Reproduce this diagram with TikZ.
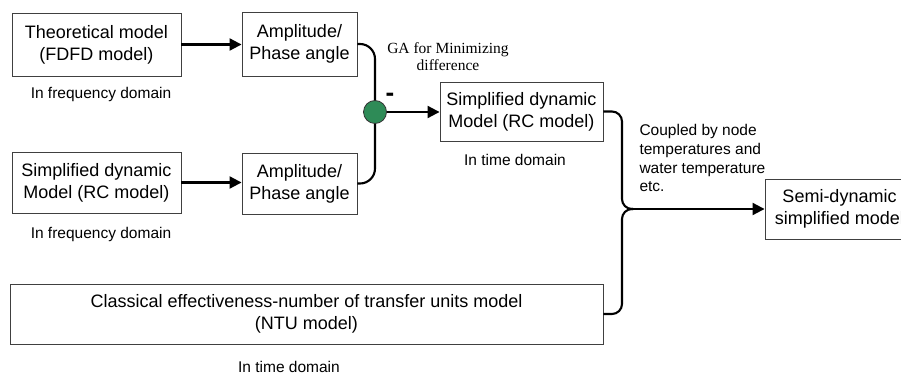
\documentclass[tikz,border=0pt]{standalone}
\usepackage{fontspec}
\setmainfont{Liberation Sans}
\newfontfamily\gaFont{Liberation Serif}
\usepackage{xcolor}
\definecolor{sumGreen}{RGB}{46,139,87}
\usetikzlibrary{
    positioning,
    arrows.meta,
}

\begin{document}
\begin{tikzpicture}[x=1pt,y=-1pt,
        modelBox/.style={draw=black!75,line width=0.9pt,align=center,
                         inner sep=0pt,font=\fontsize{18}{21.7}\selectfont},
        domainLabel/.style={font=\fontsize{15.5}{18.7}\selectfont},
        link/.style={line width=2.1pt},
        linkArrow/.style={link,-{Triangle[length=12pt,width=12pt]}},
    ]
    \pgfmathsetmacro\LeftX{96.5}
    \pgfmathsetmacro\AmpX{299.5}
    \pgfmathsetmacro\SumX{375}
    \pgfmathsetmacro\BraceX{622}
    %
    \useasboundingbox (0,0) rectangle (901,382);
    \clip (0,0) rectangle (901,382);
    %
        % Ramo teorico
    \node[modelBox,minimum width=169pt,minimum height=63pt] (theo)
        at (\LeftX,44.5) {Theoretical model\\(FDFD model)};
    \node[domainLabel] (theoDom) at (101,94) {In frequency domain};
    \node[modelBox,minimum width=115pt,minimum height=64pt] (ampA)
        at (\AmpX,44) {Amplitude/\\Phase angle};
    %
        % Ramo semplificato
    \node[modelBox,minimum width=169pt,minimum height=61pt] (simpF)
        at (\LeftX,182.5) {Simplified dynamic\\Model (RC model)};
    \node[domainLabel] (simpFDom) at (101,234) {In frequency domain};
    \node[modelBox,minimum width=115pt,minimum height=61pt] (ampB)
        at (\AmpX,183.5) {Amplitude/\\Phase angle};
    %
        % Confronto
    \node[circle,draw=black!80,line width=0.8pt,fill=sumGreen,
          minimum size=23pt,inner sep=0pt] (sum) at (\SumX,112) {};
    \node[font=\bfseries\fontsize{26}{26}\selectfont] (minus) at (390,97) {-};
    \node[align=center,font=\gaFont\fontsize{15.5}{17}\selectfont] (ga)
        at (448,57) {GA for Minimizing\\difference};
    %
    \node[modelBox,minimum width=163pt,minimum height=59pt] (simpT)
        at (521.5,111.5) {Simplified dynamic\\Model (RC model)};
    \node[domainLabel] (simpTDom) at (515,160) {In time domain};
    %
        % Modello NTU
    \node[modelBox,minimum width=593pt,minimum height=60pt] (ntu)
        at (306.5,314) {Classical effectiveness-number of transfer units model\\(NTU model)};
    \node[domainLabel] (ntuDom) at (289,367) {In time domain};
    %
        % Modello finale
    \node[modelBox,minimum width=149pt,minimum height=60pt] (semi)
        at (839.5,209) {Semi-dynamic\\simplified model};
    \node[domainLabel,align=left,anchor=north west] (coupled)
        at (636,121) {Coupled by node\\temperatures and\\water temperature\\etc.};
    %
    \coordinate (join) at (\BraceX+11,209);
    %
        % Collegamenti
    \draw[linkArrow] (theo.east) -- (theo.east -| ampA.west);
    \draw[linkArrow] (simpF.east) -- (simpF.east -| ampB.west);
    \draw[link,rounded corners=15pt] (ampA.east) -| (sum.north);
    \draw[link,rounded corners=15pt] (ampB.east) -| (sum.south);
    \draw[linkArrow] (sum.east) -- (sum.east -| simpT.west);
    %
    \draw[link,rounded corners=10pt] (simpT.east) -| ([xshift=-11pt]join) -- (join);
    \draw[link,rounded corners=10pt] (ntu.east) -| ([xshift=-11pt]join) -- (join);
    \draw[linkArrow] (join) -- (join -| semi.west);
\end{tikzpicture}
\end{document}
